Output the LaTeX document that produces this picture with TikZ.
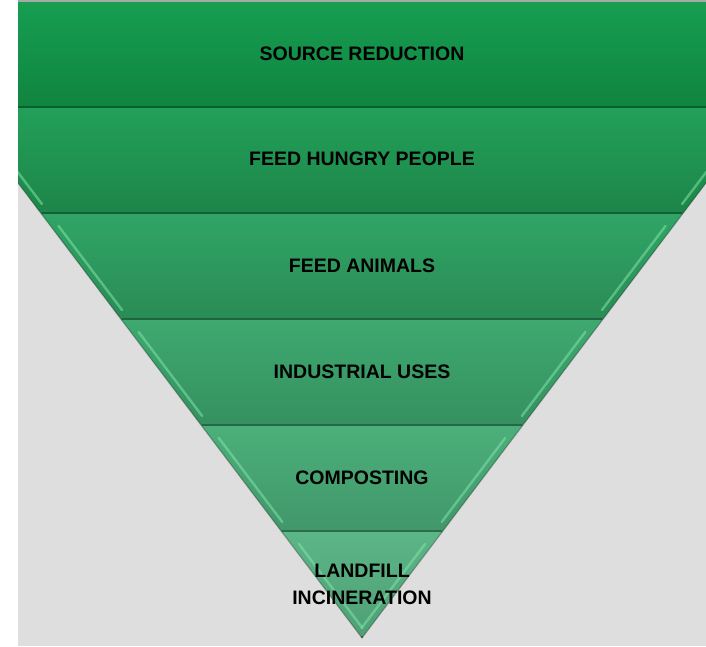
\documentclass[tikz,border=0pt]{standalone}
\usepackage{fontspec}
\setmainfont{Liberation Sans}
\definecolor{bgray}{HTML}{DEDEDE}
\definecolor{topline}{HTML}{A8A8A8}
\definecolor{hilite}{HTML}{7FE3AA}
\definecolor{ba}{HTML}{169E51}\definecolor{bA}{HTML}{10843F}
\definecolor{bb}{HTML}{22A059}\definecolor{bB}{HTML}{1D8549}
\definecolor{bc}{HTML}{30A565}\definecolor{bC}{HTML}{2A8B55}
\definecolor{bd}{HTML}{3EA96F}\definecolor{bD}{HTML}{359060}
\definecolor{be}{HTML}{4CAF7A}\definecolor{bE}{HTML}{41976A}
\definecolor{bf}{HTML}{5CB687}\definecolor{bF}{HTML}{4E9F74}
\tikzset{
  lbl/.style={font=\fontsize{19.5}{27}\selectfont\bfseries, text=black, align=center, inner sep=0pt},
  edgeshade/.style={draw=black, opacity=0.25, line width=1.2pt},
  bevel/.style={draw=hilite, opacity=0.55, line width=2.4pt, line cap=round},
  bandline/.style={draw=black, opacity=0.28, line width=1.8pt}
}
\begin{document}
\begin{tikzpicture}[x=1pt,y=-1pt]
\useasboundingbox (0,0) rectangle (706,646);
\fill[white] (0,0) rectangle (706,646);
\fill[bgray] (18,0) rectangle (706,646);
\fill[topline] (18,0) rectangle (706,2);
\begin{scope}
\clip (18,2) rectangle (706,646);
\foreach \i/\ct/\cb in {0/ba/bA,1/bb/bB,2/bc/bC,3/bd/bD,4/be/bE,5/bf/bF} {
  \pgfmathsetmacro\yt{2+106*\i}
  \pgfmathsetmacro\yb{\yt+106}
  \pgfmathsetmacro\lt{362-0.756*(638-\yt)}
  \pgfmathsetmacro\lb{362-0.756*(638-\yb)}
  \pgfmathsetmacro\rt{724-\lt}
  \pgfmathsetmacro\rb{724-\lb}
  \shade[top color=\ct, bottom color=\cb] (\lt,\yt) -- (\rt,\yt) -- (\rb,\yb) -- (\lb,\yb) -- cycle;
  % bevel highlights along slanted edges
  \pgfmathsetmacro\ha{\yt+12}
  \pgfmathsetmacro\hb{\yb-10}
  \pgfmathsetmacro\lha{362-0.756*(638-\ha)+8}
  \pgfmathsetmacro\lhb{362-0.756*(638-\hb)+8}
  \pgfmathsetmacro\rha{724-\lha}
  \pgfmathsetmacro\rhb{724-\lhb}
  \draw[bevel] (\lha,\ha) -- (\lhb,\hb);
  \draw[bevel] (\rha,\ha) -- (\rhb,\hb);
  \draw[edgeshade] (\lt,\yt) -- (\lb,\yb);
  \draw[edgeshade] (\rt,\yt) -- (\rb,\yb);
  \pgfmathsetmacro\yl{\yb-0.9}
  \pgfmathsetmacro\llb{\lb+0.6}
  \pgfmathsetmacro\rrb{\rb-0.6}
  \draw[bandline] (\llb,\yl) -- (\rrb,\yl);
}
\end{scope}
\node[lbl] (t1) at (362,54) {SOURCE REDUCTION};
\node[lbl] (t2) at (362,159) {FEED HUNGRY PEOPLE};
\node[lbl] (t3) at (362,266) {FEED ANIMALS};
\node[lbl] (t4) at (362,372) {INDUSTRIAL USES};
\node[lbl] (t5) at (362,478) {COMPOSTING};
\node[lbl] (t6) at (362,584) {LANDFILL\\INCINERATION};
\end{tikzpicture}
\end{document}
